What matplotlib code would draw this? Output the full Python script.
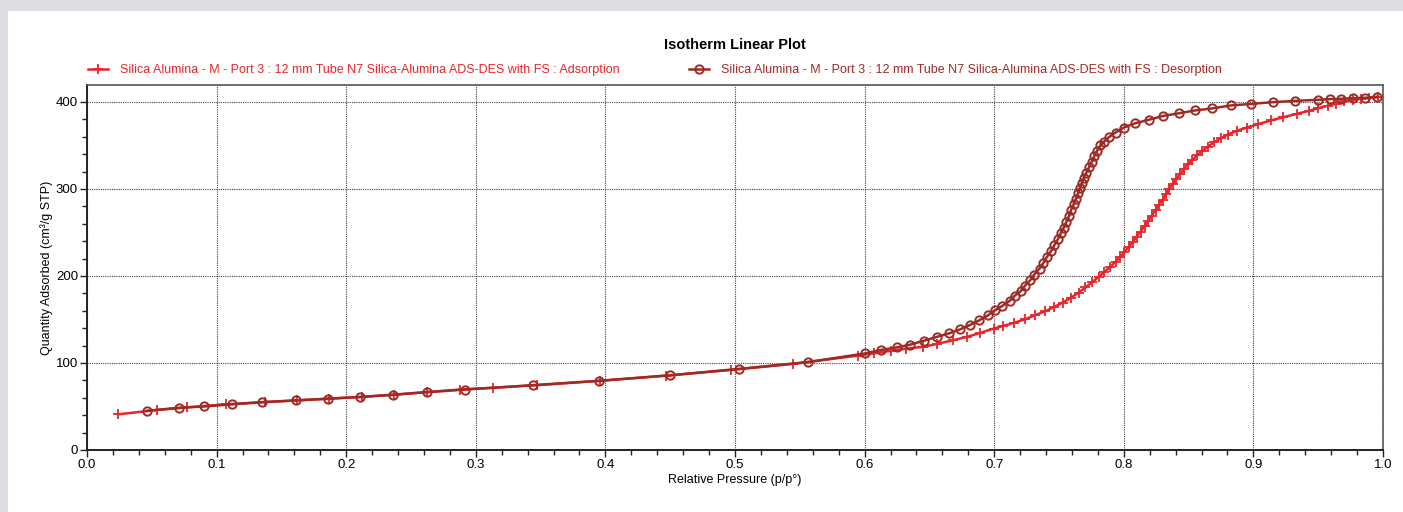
import matplotlib
matplotlib.use("Agg")
import matplotlib.pyplot as plt
from matplotlib.patches import Rectangle
from matplotlib.ticker import MultipleLocator

plt.rcParams['font.family'] = ['Liberation Sans', 'DejaVu Sans']

# Adsorption branch (p/p°, cm³/g STP)
ads_x = [0.024, 0.054, 0.077, 0.107, 0.137, 0.162, 0.187, 0.212, 0.237, 0.262,
         0.288, 0.313, 0.347, 0.396, 0.447, 0.497, 0.545, 0.595, 0.607, 0.620,
         0.632, 0.645, 0.656, 0.668, 0.679, 0.689, 0.6995, 0.707, 0.715, 0.724,
         0.7317, 0.7394, 0.7464, 0.753, 0.7593, 0.7652, 0.7704, 0.7755, 0.7807, 0.785,
         0.7897, 0.7936, 0.7974, 0.8005, 0.8039, 0.807, 0.8098, 0.8129, 0.816, 0.8188,
         0.8216, 0.8245, 0.827, 0.8299, 0.8325, 0.835, 0.8376, 0.8405, 0.8433, 0.8464,
         0.8495, 0.853, 0.8567, 0.8606, 0.865, 0.8696, 0.8747, 0.8804, 0.8871, 0.8949,
         0.9036, 0.9134, 0.9232, 0.9335, 0.943, 0.950, 0.9572, 0.9637, 0.9701, 0.9765,
         0.983, 0.9894, 0.9959]
ads_y = [41.0, 46.0, 49.0, 52.5, 55.0, 57.0, 59.0, 61.0, 63.5, 66.5,
         69.5, 71.5, 74.5, 79.5, 85.5, 92.0, 99.0, 108.5, 111.0, 114.0,
         116.5, 118.5, 122.0, 126.0, 130.0, 134.5, 139.5, 142.6, 146.0, 150.3,
         155.0, 159.5, 164.5, 169.5, 175.2, 181.0, 186.8, 192.9, 199.0, 204.8,
         210.6, 216.3, 222.0, 227.8, 233.6, 239.3, 245.0, 250.9, 257.4, 263.5,
         269.3, 275.8, 281.6, 287.3, 293.8, 300.0, 305.8, 311.5, 317.3, 322.6,
         328.4, 333.4, 338.8, 343.8, 348.7, 353.7, 358.3, 362.6, 366.8, 370.6,
         374.5, 378.7, 382.5, 386.4, 389.8, 392.9, 395.6, 397.9, 400.6, 402.5,
         403.6, 404.4, 405.5]

# Desorption branch
des_x = [0.046, 0.071, 0.090, 0.112, 0.135, 0.161, 0.186, 0.211, 0.236, 0.262,
         0.292, 0.344, 0.395, 0.4497, 0.5034, 0.556, 0.6005, 0.6126, 0.625, 0.635,
         0.6456, 0.6557, 0.665, 0.6735, 0.681, 0.6884, 0.695, 0.7005, 0.7062, 0.7119,
         0.7157, 0.7206, 0.7237, 0.7278, 0.7309, 0.735, 0.738, 0.7407, 0.7438, 0.7464,
         0.749, 0.7513, 0.7536, 0.7557, 0.7577, 0.7593, 0.7613, 0.7631, 0.7647, 0.766,
         0.7675, 0.769, 0.7711, 0.7732, 0.7753, 0.7773, 0.7794, 0.782, 0.7845, 0.7884,
         0.7936, 0.800, 0.809, 0.8193, 0.8304, 0.8425, 0.8546, 0.8678, 0.8825, 0.8985,
         0.915, 0.9322, 0.950, 0.9593, 0.9675, 0.9765, 0.986, 0.9954]
des_y = [45.0, 48.5, 50.0, 52.5, 55.0, 57.0, 59.0, 61.0, 63.5, 66.5,
         69.5, 74.5, 79.5, 85.8, 93.3, 101.0, 111.0, 115.0, 118.0, 121.0,
         125.5, 130.0, 134.0, 138.5, 143.5, 149.0, 154.6, 160.5, 165.6, 171.4,
         177.2, 182.9, 188.7, 195.2, 201.7, 208.6, 215.2, 222.0, 228.6, 235.5,
         242.0, 249.0, 255.5, 262.4, 269.0, 275.8, 282.3, 288.9, 295.0, 300.8,
         306.5, 312.3, 318.8, 325.0, 331.5, 338.0, 344.1, 350.3, 354.0, 359.5,
         364.9, 370.6, 375.6, 379.5, 384.0, 387.0, 390.2, 392.5, 396.0, 397.8,
         399.8, 401.3, 402.5, 403.3, 403.6, 404.4, 404.8, 406.0]

ads_label = 'Silica Alumina - M - Port 3 : 12 mm Tube N7 Silica-Alumina ADS-DES with FS : Adsorption'
des_label = 'Silica Alumina - M - Port 3 : 12 mm Tube N7 Silica-Alumina ADS-DES with FS : Desorption'

ads_color = '#e8252b'
des_color = '#9e2a26'

fig = plt.figure(figsize=(14.03, 5.12), dpi=100, facecolor='#dcdde0')
# white panel behind everything
fig.patches.append(Rectangle((8 / 1403, 0), 1, 1 - 11 / 512, transform=fig.transFigure,
                             facecolor='white', edgecolor='none', zorder=-10))

ax = fig.add_axes([87 / 1403, 1 - 450 / 512, 1296 / 1403, 365 / 512])
ax.set_zorder(5)
ax.set_facecolor('white')

ax.plot(ads_x, ads_y, color=ads_color, lw=1.8, marker='+', ms=7, mew=1.3,
        label=ads_label, zorder=3)
ax.plot(des_x, des_y, color=des_color, lw=1.8, marker='o', ms=6, mew=1.4,
        mfc='none', mec=des_color, label=des_label, zorder=4)

ax.set_xlim(0, 1)
ax.set_ylim(0, 419.5)
ax.xaxis.set_major_locator(MultipleLocator(0.1))
ax.xaxis.set_minor_locator(MultipleLocator(0.02))
ax.yaxis.set_major_locator(MultipleLocator(100))
ax.yaxis.set_minor_locator(MultipleLocator(20))
ax.xaxis.set_major_formatter(lambda v, pos: f'{v:.1f}')

ax.tick_params(which='major', direction='out', length=5, width=1, labelsize=9.5,
               pad=1.5, color='#222222')
ax.tick_params(which='minor', direction='out', length=3.5, width=1, color='#222222')
ax.grid(which='major', color='#444444', linestyle=(0, (1, 1)), linewidth=0.8)

for side in ['left', 'bottom']:
    ax.spines[side].set_color('#222222')
    ax.spines[side].set_linewidth(1.4)
for side in ['top', 'right']:
    ax.spines[side].set_color('#555555')
    ax.spines[side].set_linewidth(1.2)

ax.set_xlabel('Relative Pressure (p/p°)', fontsize=9, labelpad=2)
ax.set_ylabel('Quantity Adsorbed (cm³/g STP)', fontsize=9, labelpad=2)

fig.text(735 / 1403, 1 - 45 / 512, 'Isotherm Linear Plot', fontsize=10.5,
         fontweight='bold', ha='center', va='center')

leg = ax.legend(loc='lower left', bbox_to_anchor=(-0.006, 1.0), ncol=2, frameon=False,
                fontsize=9, labelcolor='linecolor', handlelength=1.6,
                handletextpad=0.95, columnspacing=5.6, borderaxespad=0.5, borderpad=0.2)

fig.savefig('out.png', dpi=100, facecolor=fig.get_facecolor())
